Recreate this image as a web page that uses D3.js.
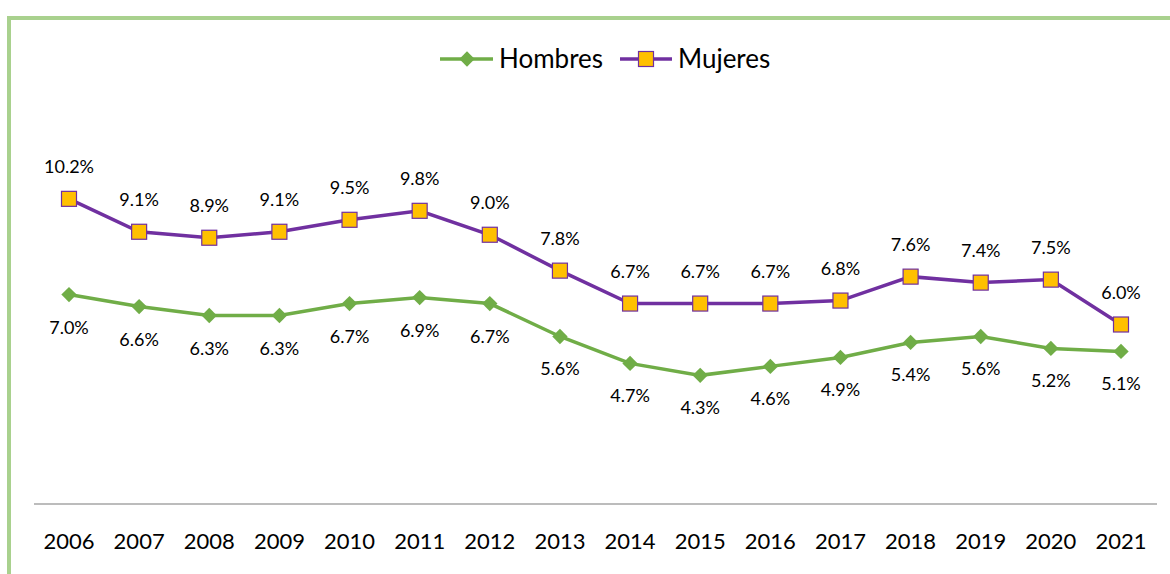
<!DOCTYPE html>
<html>
<head>
<meta charset="utf-8">
<script src="https://cdn.jsdelivr.net/npm/d3@7"></script>
<style>
  body { margin: 0; background: #fff; }
  text { font-family: Lato, "Open Sans", sans-serif; fill: #000; }
</style>
</head>
<body>
<svg id="chart"></svg>
<script>
const years = ['2006', '2007', '2008', '2009', '2010', '2011', '2012', '2013',
  '2014', '2015', '2016', '2017', '2018', '2019', '2020', '2021'];
const hombres = [7.0, 6.6, 6.3, 6.3, 6.7, 6.9, 6.7, 5.6, 4.7, 4.3, 4.6, 4.9, 5.4, 5.6, 5.2, 5.1];
const mujeres = [10.2, 9.1, 8.9, 9.1, 9.5, 9.8, 9.0, 7.8, 6.7, 6.7, 6.7, 6.8, 7.6, 7.4, 7.5, 6.0];
const seriesNames = ['Hombres', 'Mujeres'];

const width = 1170, height = 574;
const green = '#70ad47', purple = '#7030a0', orange = '#ffc000';

const svg = d3.select('#chart')
  .attr('width', width)
  .attr('height', height);

// frame (light green, left + top)
svg.append('path')
  .attr('d', 'M9,574 V18 H1170')
  .attr('fill', 'none')
  .attr('stroke', '#a9d18e')
  .attr('stroke-width', 4);

const x = d3.scalePoint()
  .domain(years)
  .range([69, 1121]);

const y = d3.scaleLinear()
  .domain([0, 12])
  .range([504, 145]);

// baseline
svg.append('line')
  .attr('x1', 34).attr('x2', 1157)
  .attr('y1', y(0)).attr('y2', y(0))
  .attr('stroke', '#a6a6a6')
  .attr('stroke-width', 1.3);

// year labels
svg.append('g')
  .selectAll('text')
  .data(years)
  .enter()
  .append('text')
  .attr('x', d => x(d))
  .attr('y', 549)
  .attr('text-anchor', 'middle')
  .style('font-size', '22px')
  .text(d => d);

const line = d3.line()
  .x((d, i) => x(years[i]))
  .y(d => y(d));

const diamond = d3.symbol().type(d3.symbolDiamond2).size(150);

// Hombres
svg.append('path')
  .datum(hombres)
  .attr('d', line)
  .attr('fill', 'none')
  .attr('stroke', green)
  .attr('stroke-width', 3.5);

svg.append('g')
  .selectAll('path')
  .data(hombres)
  .enter()
  .append('path')
  .attr('d', diamond)
  .attr('transform', (d, i) => `translate(${x(years[i])},${y(d)})`)
  .attr('fill', green);

svg.append('g')
  .selectAll('text')
  .data(hombres)
  .enter()
  .append('text')
  .attr('x', (d, i) => x(years[i]))
  .attr('y', d => y(d) + 39)
  .attr('text-anchor', 'middle')
  .style('font-size', '18px')
  .text(d => d.toFixed(1) + '%');

// Mujeres
svg.append('path')
  .datum(mujeres)
  .attr('d', line)
  .attr('fill', 'none')
  .attr('stroke', purple)
  .attr('stroke-width', 3.5);

svg.append('g')
  .selectAll('rect')
  .data(mujeres)
  .enter()
  .append('rect')
  .attr('x', (d, i) => x(years[i]) - 7.5)
  .attr('y', d => y(d) - 7.5)
  .attr('width', 15)
  .attr('height', 15)
  .attr('fill', orange)
  .attr('stroke', purple)
  .attr('stroke-width', 1.2);

svg.append('g')
  .selectAll('text')
  .data(mujeres)
  .enter()
  .append('text')
  .attr('x', (d, i) => x(years[i]))
  .attr('y', d => y(d) - 26)
  .attr('text-anchor', 'middle')
  .style('font-size', '18px')
  .text(d => d.toFixed(1) + '%');

// legend
const legend = svg.append('g');
const legY = 59;

legend.append('line')
  .attr('x1', 440).attr('x2', 493)
  .attr('y1', legY).attr('y2', legY)
  .attr('stroke', green).attr('stroke-width', 3.5);
legend.append('path')
  .attr('d', diamond)
  .attr('transform', `translate(467,${legY})`)
  .attr('fill', green);
legend.append('text')
  .attr('x', 499).attr('y', legY + 9)
  .style('font-size', '26px')
  .text(seriesNames[0]);

legend.append('line')
  .attr('x1', 620).attr('x2', 672)
  .attr('y1', legY).attr('y2', legY)
  .attr('stroke', purple).attr('stroke-width', 3.5);
legend.append('rect')
  .attr('x', 638.5).attr('y', legY - 7.5)
  .attr('width', 15).attr('height', 15)
  .attr('fill', orange)
  .attr('stroke', purple)
  .attr('stroke-width', 1.2);
legend.append('text')
  .attr('x', 678).attr('y', legY + 9)
  .style('font-size', '26px')
  .text(seriesNames[1]);
</script>
</body>
</html>
